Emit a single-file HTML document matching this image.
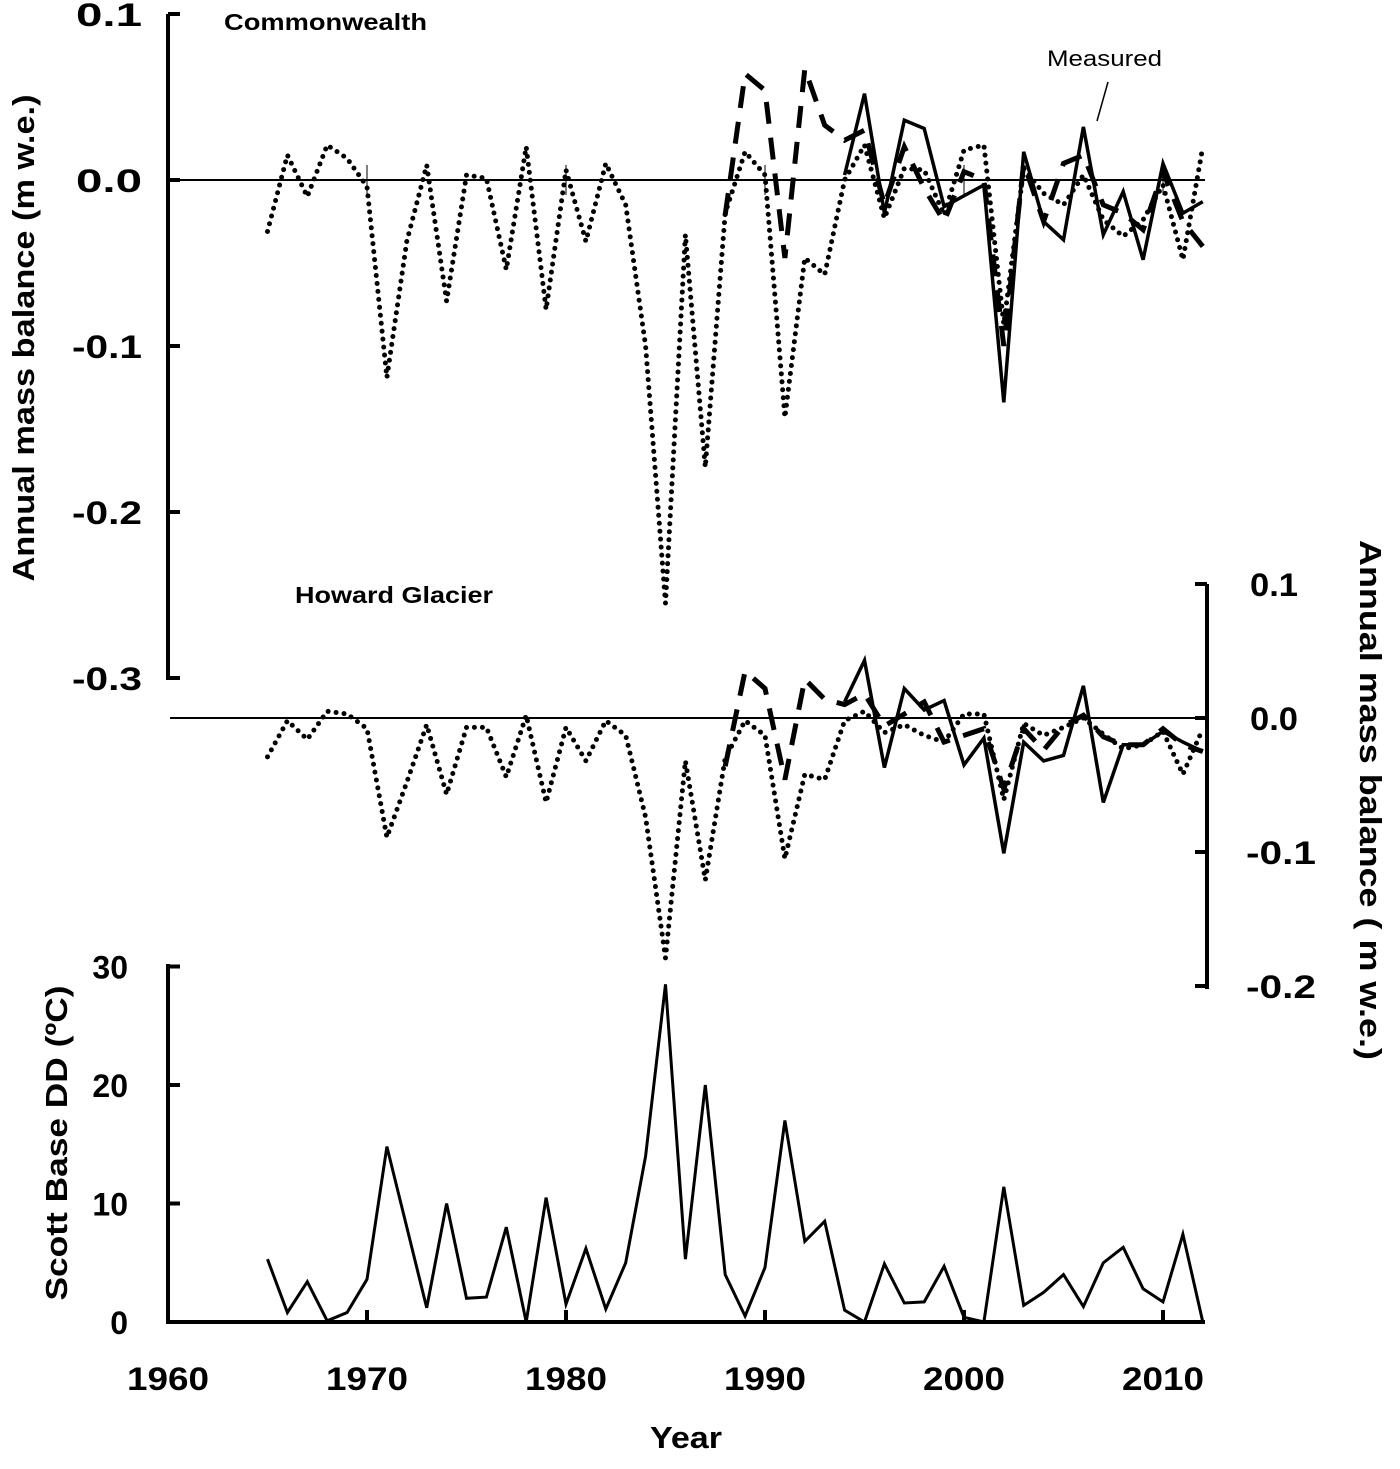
<!DOCTYPE html>
<html><head><meta charset="utf-8"><style>
html,body{margin:0;padding:0;background:#fff}
svg{display:block}
text{font-family:"Liberation Sans",sans-serif;fill:#000}
.b{font-weight:bold}
</style></head><body>
<svg id="chart" width="1400" height="1469" viewBox="0 0 1400 1469" xmlns="http://www.w3.org/2000/svg">
<g id="static">
  <line x1="168" y1="14" x2="168" y2="680" stroke="#000" stroke-width="4"/>
  <line x1="168" y1="180" x2="1205" y2="180" stroke="#000" stroke-width="2"/>
  <line x1="170" y1="718" x2="1206" y2="718" stroke="#000" stroke-width="2"/>
  <line x1="1207" y1="584" x2="1207" y2="989" stroke="#000" stroke-width="4"/>
  <line x1="168" y1="964" x2="168" y2="1323" stroke="#000" stroke-width="4"/>
  <line x1="166" y1="1322" x2="1205" y2="1322" stroke="#000" stroke-width="4"/>
  <text class="b" x="224" y="30" font-size="23" textLength="203" lengthAdjust="spacingAndGlyphs">Commonwealth</text>
  <text class="b" x="295" y="603" font-size="23" textLength="198" lengthAdjust="spacingAndGlyphs">Howard Glacier</text>
  <text x="1047" y="66" font-size="22" textLength="115" lengthAdjust="spacingAndGlyphs">Measured</text>
  <line x1="1108" y1="82" x2="1097" y2="121" stroke="#000" stroke-width="1.5"/>
  <text class="b" font-size="31" transform="translate(34,338) rotate(-90)" text-anchor="middle" textLength="487" lengthAdjust="spacingAndGlyphs">Annual mass balance (m w.e.)</text>
  <text class="b" font-size="31" transform="translate(1360,800) rotate(90)" text-anchor="middle" textLength="520" lengthAdjust="spacingAndGlyphs">Annual mass balance ( m w.e.)</text>
  <text class="b" font-size="31" transform="translate(67,1143) rotate(-90)" text-anchor="middle" textLength="315" lengthAdjust="spacingAndGlyphs">Scott Base DD (ºC)</text>
  <text class="b" font-size="31" x="686" y="1448" text-anchor="middle" textLength="72" lengthAdjust="spacingAndGlyphs">Year</text>
</g>
<g id="marks"></g>
</svg>
<script>
const years = [];
for (let y = 1965; y <= 2012; y++) years.push(y);
const xTicks = [1960,1970,1980,1990,2000,2010];
const topTicks = [0.1,0.0,-0.1,-0.2,-0.3];
const midTicks = [0.1,0.0,-0.1,-0.2];
const ddTicks = [30,20,10,0];
const topModel = [-0.031,0.015,-0.010,0.021,0.013,-0.004,-0.119,-0.037,0.009,-0.073,0.003,0.001,-0.054,0.020,-0.078,0.006,-0.037,0.010,-0.015,-0.100,-0.255,-0.033,-0.173,-0.020,0.017,0.003,-0.143,-0.047,-0.057,0.000,0.021,-0.023,0.007,0.006,-0.021,0.018,0.021,-0.087,0.007,-0.008,-0.015,0.003,-0.024,-0.034,-0.024,-0.003,-0.048,0.020];
const topDashYears = [1988,1989,1990,1991,1992,1993,1994,1995,1996,1997,1998,1999,2000,2001,2002,2003,2004,2005,2006,2007,2008,2009,2010,2011,2012];
const topDash = [-0.021,0.064,0.054,-0.047,0.067,0.033,0.024,0.030,-0.015,0.020,-0.005,-0.025,0.005,0.000,-0.100,0.010,-0.025,0.010,0.015,-0.015,-0.020,-0.030,0.005,-0.025,-0.040];
const measYears = [1994,1995,1996,1997,1998,1999,2001,2002,2003,2004,2005,2006,2007,2008,2009,2010,2011,2012];
const topMeas = [0.003,0.052,-0.020,0.036,0.031,-0.016,-0.003,-0.134,0.017,-0.025,-0.036,0.032,-0.033,-0.007,-0.048,0.010,-0.020,-0.013];
const midModel = [-0.029,-0.002,-0.016,0.005,0.003,-0.008,-0.089,-0.048,-0.005,-0.057,-0.007,-0.007,-0.044,0.002,-0.063,-0.007,-0.032,-0.002,-0.013,-0.074,-0.179,-0.032,-0.121,-0.030,-0.002,-0.013,-0.105,-0.042,-0.046,-0.002,0.005,-0.011,-0.005,-0.013,-0.018,0.003,0.003,-0.061,-0.004,-0.013,-0.007,0.000,-0.012,-0.023,-0.020,-0.010,-0.042,-0.008];
const midDash = [-0.036,0.035,0.022,-0.046,0.029,0.014,0.010,0.018,-0.006,0.003,0.012,-0.018,-0.013,-0.008,-0.053,-0.008,-0.024,-0.006,0.002,-0.014,-0.020,-0.020,-0.008,-0.020,-0.025];
const midMeasYears = [1994,1995,1996,1997,1998,1999,2000,2001,2002,2003,2004,2005,2006,2007,2008,2009,2010,2011,2012];
const midMeas = [0.012,0.043,-0.037,0.022,0.006,0.013,-0.035,-0.015,-0.101,-0.018,-0.032,-0.028,0.024,-0.063,-0.020,-0.020,-0.010,-0.018,-0.025];
const ddValues = [5.3,0.8,3.4,0.1,0.8,3.6,14.8,8,1.2,10,2,2.1,8,0,10.5,1.5,6.2,1.1,5,14,28.5,5.3,20,4,0.5,4.6,17,6.8,8.5,1,0,4.9,1.6,1.7,4.7,0.4,0,11.4,1.4,2.5,4,1.3,5,6.3,2.8,1.7,7.4,0];

const X = yr => 168 + (yr - 1960) * 19.9;
const YT = v => 180 - v * 1660;
const YM = v => 718 - v * 1340;
const YD = v => 1322 - v * 11.85;
const NS = "http://www.w3.org/2000/svg";
const g = document.getElementById('marks');
function mk(tag, attrs){const e=document.createElementNS(NS,tag);for(const k in attrs)e.setAttribute(k,attrs[k]);g.appendChild(e);return e;}
function pts(xs, vs, yf){return xs.map((yr,i)=>X(yr).toFixed(1)+','+yf(vs[i]).toFixed(1)).join(' ');}

let e;
e = mk('polyline',{points:pts(years,topModel,YT),fill:'none',stroke:'#000','stroke-width':5,'stroke-linecap':'round','stroke-dasharray':'0 8'});


e = mk('polyline',{points:pts(topDashYears,topDash,YT),fill:'none',stroke:'#000','stroke-width':5,'stroke-dasharray':'22 14'});


e = mk('polyline',{points:pts(measYears,topMeas,YT),fill:'none',stroke:'#000','stroke-width':3.5});


e = mk('polyline',{points:pts(years,midModel,YM),fill:'none',stroke:'#000','stroke-width':5,'stroke-linecap':'round','stroke-dasharray':'0 8'});


e = mk('polyline',{points:pts(topDashYears,midDash,YM),fill:'none',stroke:'#000','stroke-width':5,'stroke-dasharray':'22 14'});


e = mk('polyline',{points:pts(midMeasYears,midMeas,YM),fill:'none',stroke:'#000','stroke-width':3.5});


e = mk('polyline',{points:pts(years,ddValues,YD),fill:'none',stroke:'#000','stroke-width':3});



topTicks.forEach(t=>{
  e = mk('line',{x1:168,y1:YT(t),x2:180,y2:YT(t),stroke:'#000','stroke-width':4});
  
  
  const s = t.toFixed(1);
  e = mk('text',{x:142,y:YT(t)+12,'text-anchor':'end','font-size':32,'font-weight':'bold',textLength:(s.length>3?70:66),lengthAdjust:'spacingAndGlyphs'});
  e.textContent = s;
  
  
});
midTicks.forEach(t=>{
  e = mk('line',{x1:1195,y1:YM(t),x2:1207,y2:YM(t),stroke:'#000','stroke-width':4});
  
  
  const s = t.toFixed(1);
  e = mk('text',{x:(s.length>3?1246:1250),y:YM(t)+12,'font-size':32,'font-weight':'bold',textLength:(s.length>3?70:48),lengthAdjust:'spacingAndGlyphs'});
  e.textContent = s;
  
  
});
ddTicks.forEach(t=>{
  e = mk('line',{x1:168,y1:YD(t),x2:180,y2:YD(t),stroke:'#000','stroke-width':4});
  
  
  e = mk('text',{x:128,y:YD(t)+12,'text-anchor':'end','font-size':32,'font-weight':'bold'});
  e.textContent = String(t);
  
  
});
xTicks.forEach(t=>{
  e = mk('line',{x1:X(t),y1:1310,x2:X(t),y2:1322,stroke:'#000','stroke-width':4});
  
  
  e = mk('line',{x1:X(t),y1:165,x2:X(t),y2:195,stroke:'#000','stroke-width':1});
  
  
  e = mk('text',{x:X(t),y:1390,'text-anchor':'middle','font-size':32,'font-weight':'bold',textLength:82,lengthAdjust:'spacingAndGlyphs'});
  e.textContent = String(t);
  
  
});
</script>
</body></html>
